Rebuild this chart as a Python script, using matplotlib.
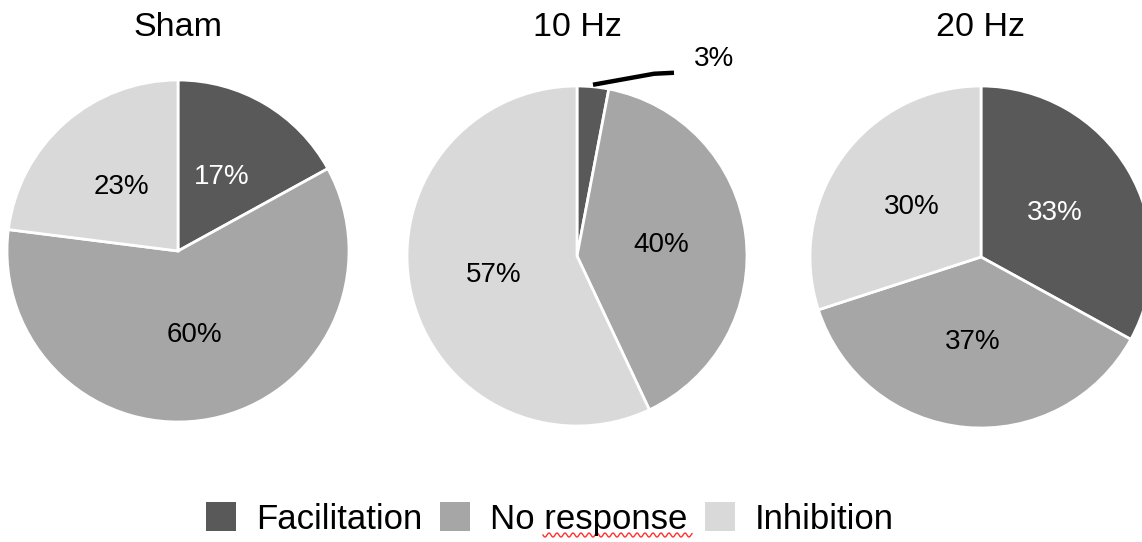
import numpy as np
import matplotlib
matplotlib.use('Agg')
from matplotlib import pyplot
from matplotlib.patches import Patch

pyplot.rcParams['font.family'] = ['Liberation Sans', 'DejaVu Sans']

categories = ['Facilitation', 'No response', 'Inhibition']
colors = ['#595959', '#a6a6a6', '#d9d9d9']
conditions = ['Sham', '10 Hz', '20 Hz']
sham = [17, 60, 23]
hz10 = [3, 40, 57]
hz20 = [33, 37, 30]

# pie placement in pixel space (y measured from the top)
W, H = 1142, 542
centers = [(178, 251), (577, 256), (981, 257)]
radii = [171, 170, 171]

fig = pyplot.figure(figsize=(W / 100, H / 100), dpi=100)
ax = fig.add_axes([0, 0, 1, 1])

for values, name, (cx, cy), r in zip([sham, hz10, hz20], conditions, centers, radii):
    wedges, texts, autotexts = ax.pie(
        values, colors=colors, startangle=90, counterclock=False,
        center=(cx, H - cy), radius=r, autopct='%.0f%%', pctdistance=0.5,
        wedgeprops=dict(edgecolor='white', linewidth=2),
        textprops=dict(fontsize=20, color='black'), frame=True)
    for v, t in zip(values, autotexts):
        if t is autotexts[0]:
            t.set_color('white')
        if v < 5:
            # tiny slice gets an outside label with a leader line
            t.set_visible(False)
            mid = np.deg2rad(90 - 3.6 * v / 2)
            x0 = cx + r * np.cos(mid)
            y0 = H - cy + r * np.sin(mid)
            ax.plot([x0, x0 + 61, x0 + 81], [y0 + 2, y0 + 13, y0 + 14],
                    color='black', lw=3.2, solid_capstyle='butt')
            ax.text(x0 + 121, y0 + 28, '%d%%' % v, fontsize=20,
                    ha='center', va='center')
    ax.text(cx, H - 27, name, fontsize=24.5, ha='center', va='center')

ax.set_xlim(0, W)
ax.set_ylim(0, H)
ax.set_aspect('auto')
ax.axis('off')

handles = [Patch(facecolor=c, edgecolor='none') for c in colors]
fig.legend(handles, categories, loc='center', bbox_to_anchor=(550 / W, 1 - 519 / H),
           ncol=3, frameon=False, fontsize=25, handlelength=0.86, handleheight=0.9,
           handletextpad=0.58, columnspacing=0.5, borderpad=0, borderaxespad=0)

# spell-check squiggle under "response"
sx = np.linspace(543, 692, 240)
sy = 535 + 2 * np.sin(2 * np.pi * (sx - 543) / 8)
ax.plot(sx, H - sy, color='#ff3030', lw=1)

fig.savefig('out.png', dpi=100)
